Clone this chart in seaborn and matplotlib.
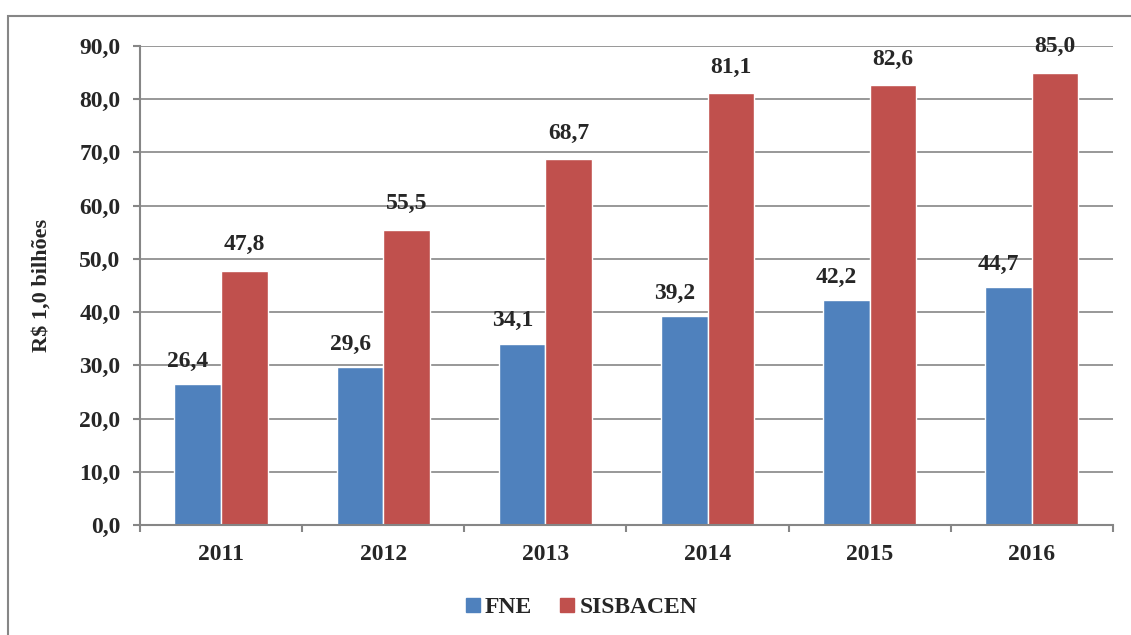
import pandas as pd
import seaborn as sns
import matplotlib.pyplot as plt
from matplotlib.patches import Rectangle
from matplotlib.lines import Line2D
from matplotlib.ticker import FixedLocator

sns.set_style("white")
plt.rcParams['font.family'] = ['Liberation Serif', 'DejaVu Serif']
plt.rcParams['font.weight'] = 'bold'

# data
years = ['2011', '2012', '2013', '2014', '2015', '2016']
fne = [26.4, 29.6, 34.1, 39.2, 42.2, 44.7]
sisbacen = [47.8, 55.5, 68.7, 81.1, 82.6, 85.0]
series = ['FNE', 'SISBACEN']
colors = ['#4F81BD', '#C0504D']
grid_color = '#868686'

df = pd.DataFrame({
    'ano': years * 2,
    'valor': fne + sisbacen,
    'serie': ['FNE'] * len(years) + ['SISBACEN'] * len(years),
})

fig = plt.figure(figsize=(11.31, 6.35), dpi=100)
ax = fig.add_axes([0.1238, 0.1732, 0.8602, 0.7544])

sns.barplot(data=df, x='ano', y='valor', hue='serie', palette=colors,
            width=0.575, saturation=1, ax=ax, legend=False)

# outer frame of the chart area
fig.patches.append(Rectangle((8 / 1131, -0.05), 1.2, 1 - 16 / 635 + 0.05,
                             transform=fig.transFigure, fill=False,
                             edgecolor=grid_color, lw=1.5))

# axes styling
ax.set_ylim(0, 90)
ax.set_xlim(-0.5, len(years) - 0.5)
ax.set_yticks(range(0, 91, 10))
ax.set_yticklabels([f"{v:.1f}".replace('.', ',') for v in range(0, 91, 10)],
                   fontsize=17, fontweight='bold')
ax.set_xticklabels(years, fontsize=17, fontweight='bold')
ax.yaxis.grid(True, color=grid_color, lw=1.2)
ax.set_axisbelow(True)
for s in ['top', 'right']:
    ax.spines[s].set_visible(False)
for s in ['left', 'bottom']:
    ax.spines[s].set_color(grid_color)
    ax.spines[s].set_linewidth(1.5)
ax.tick_params(axis='y', length=5, color=grid_color, width=1.5, pad=9, left=True)
ax.tick_params(axis='x', length=0, pad=14)
ax.xaxis.set_minor_locator(FixedLocator([i - 0.5 for i in range(len(years) + 1)]))
ax.tick_params(axis='x', which='minor', length=5, color=grid_color, width=1.5,
               bottom=True)
ax.set_xlabel('')
ax.set_ylabel('R$ 1,0 bilhões', fontsize=16, fontweight='bold', labelpad=20)

# value labels
offsets = [(-7, 9), (0, 11)]
for cont, off in zip(ax.containers, offsets):
    for bar in cont:
        h = bar.get_height()
        ax.annotate(f"{h:.1f}".replace('.', ','),
                    (bar.get_x() + bar.get_width() / 2, h),
                    xytext=off, textcoords='offset points',
                    ha='center', va='bottom', fontsize=17, fontweight='bold')

# legend
handles = [Line2D([], [], marker='s', ls='', markersize=9.5,
                  markerfacecolor=c, markeredgecolor=c) for c in colors]
fig.legend(handles, series, loc='center', bbox_to_anchor=(0.512, 0.044),
           ncol=2, frameon=False, handletextpad=0.0, handlelength=1.0,
           columnspacing=1.0, prop={'size': 17, 'weight': 'bold'})

fig.savefig('out.png', dpi=100)
